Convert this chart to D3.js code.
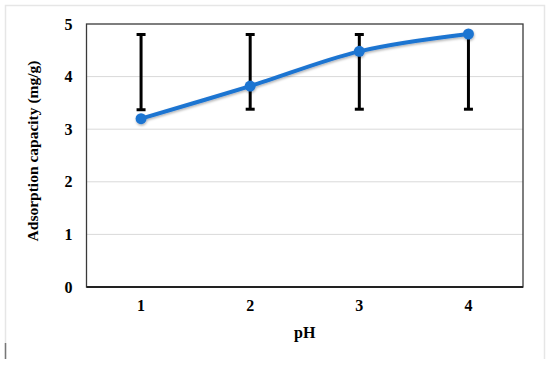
<!DOCTYPE html>
<html>
<head>
<meta charset="utf-8">
<script src="https://cdn.jsdelivr.net/npm/d3@7"></script>
<style>
  body { margin: 0; background: #fff; }
  text { font-family: "Liberation Serif", "Times New Roman", serif; font-weight: bold; fill: #000; }
</style>
</head>
<body>
<svg id="chart" width="550" height="368"></svg>
<script>
// data
var phLevels = ["1", "2", "3", "4"];
var capacity = [3.2, 3.82, 4.48, 4.81];
var errLow = [3.37, 3.38, 3.38, 3.38];
var errHigh = [4.8, 4.8, 4.8, 4.8];
var yTicks = [0, 1, 2, 3, 4, 5];

var data = phLevels.map(function(p, i) {
  return {ph: p, v: capacity[i], lo: errLow[i], hi: errHigh[i]};
});

// set the dimensions and margins of the graph
var margin = {top: 24, right: 27, bottom: 81, left: 86.5},
    width = 550 - margin.left - margin.right,
    height = 368 - margin.top - margin.bottom;

var root = d3.select("#chart");

// light outer frame
root.append("path")
  .attr("d", "M5.5,359 V5.5 H544.5 V359")
  .attr("fill", "none")
  .attr("stroke", "#e6e6e6")
  .attr("stroke-width", 1.5);
root.append("line")
  .attr("x1", 5.5).attr("x2", 5.5)
  .attr("y1", 343).attr("y2", 359)
  .attr("stroke", "#777")
  .attr("stroke-width", 1.5);

var svg = root.append("g")
  .attr("transform", "translate(" + margin.left + "," + margin.top + ")");

var x = d3.scaleBand()
  .domain(phLevels)
  .range([0, width])
  .padding(0);

var y = d3.scaleLinear()
  .domain([0, 5])
  .range([height, 0]);

// gridlines
svg.append("g")
  .selectAll("line")
  .data(yTicks.filter(function(d) { return d > 0 && d < 5; }))
  .enter()
  .append("line")
    .attr("x1", 0)
    .attr("x2", width)
    .attr("y1", function(d) { return y(d); })
    .attr("y2", function(d) { return y(d); })
    .attr("stroke", "#d9d9d9")
    .attr("stroke-width", 1);

// plot border
svg.append("rect")
  .attr("x", 0)
  .attr("y", 0)
  .attr("width", width)
  .attr("height", height)
  .attr("fill", "none")
  .attr("stroke", "#3a3a3a")
  .attr("stroke-width", 1.3);
svg.append("line")
  .attr("x1", 0).attr("x2", width)
  .attr("y1", height).attr("y2", height)
  .attr("stroke", "#222")
  .attr("stroke-width", 2);

// Y axis labels
var yAxis = svg.append("g")
  .call(d3.axisLeft(y).tickValues(yTicks).tickFormat(d3.format("d")).tickSize(0));
yAxis.select(".domain").remove();
yAxis.selectAll("text")
  .attr("font-size", 16)
  .attr("text-anchor", "middle")
  .attr("x", -18);

// X axis labels
var xAxis = svg.append("g")
  .attr("transform", "translate(0," + height + ")")
  .call(d3.axisBottom(x).tickSize(0).tickPadding(13));
xAxis.select(".domain").remove();
xAxis.selectAll("text").attr("font-size", 16);

// axis titles
svg.append("text")
  .attr("text-anchor", "middle")
  .attr("x", width / 2)
  .attr("y", height + 51)
  .attr("font-size", 16)
  .text("pH");

svg.append("text")
  .attr("text-anchor", "middle")
  .attr("transform", "translate(" + (33 - margin.left) + "," + (151 - margin.top) + ") rotate(-90)")
  .attr("dy", "0.35em")
  .attr("font-size", 15.5)
  .text("Adsorption capacity (mg/g)");

function cx(d) { return x(d.ph) + x.bandwidth() / 2; }

// error bars
var eb = svg.append("g")
  .selectAll("g")
  .data(data)
  .enter()
  .append("g");
eb.append("line")
  .attr("x1", cx).attr("x2", cx)
  .attr("y1", function(d) { return y(d.lo); })
  .attr("y2", function(d) { return y(d.hi); })
  .attr("stroke", "#000")
  .attr("stroke-width", 3);
eb.append("line")
  .attr("x1", function(d) { return cx(d) - 4.5; })
  .attr("x2", function(d) { return cx(d) + 4.5; })
  .attr("y1", function(d) { return y(d.lo); })
  .attr("y2", function(d) { return y(d.lo); })
  .attr("stroke", "#000")
  .attr("stroke-width", 3);
eb.append("line")
  .attr("x1", function(d) { return cx(d) - 4.5; })
  .attr("x2", function(d) { return cx(d) + 4.5; })
  .attr("y1", function(d) { return y(d.hi); })
  .attr("y2", function(d) { return y(d.hi); })
  .attr("stroke", "#000")
  .attr("stroke-width", 3);

// soft shadow like the original
var defs = root.append("defs");
var f = defs.append("filter").attr("id", "shadow")
  .attr("x", "-10%").attr("y", "-10%").attr("width", "120%").attr("height", "130%");
f.append("feDropShadow")
  .attr("dx", 0.5).attr("dy", 1.5)
  .attr("stdDeviation", 1.2)
  .attr("flood-color", "#000")
  .attr("flood-opacity", 0.3);

var series = svg.append("g").attr("filter", "url(#shadow)");

// the smoothed line
series.append("path")
  .datum(data)
  .attr("fill", "none")
  .attr("stroke", "#1f74d1")
  .attr("stroke-width", 4)
  .attr("stroke-linecap", "round")
  .attr("d", d3.line()
    .x(cx)
    .y(function(d) { return y(d.v); })
    .curve(d3.curveCatmullRom.alpha(0.5)));

// markers
series.selectAll("circle")
  .data(data)
  .enter()
  .append("circle")
    .attr("cx", cx)
    .attr("cy", function(d) { return y(d.v); })
    .attr("r", 5.5)
    .attr("fill", "#1f74d1");
</script>
</body>
</html>
